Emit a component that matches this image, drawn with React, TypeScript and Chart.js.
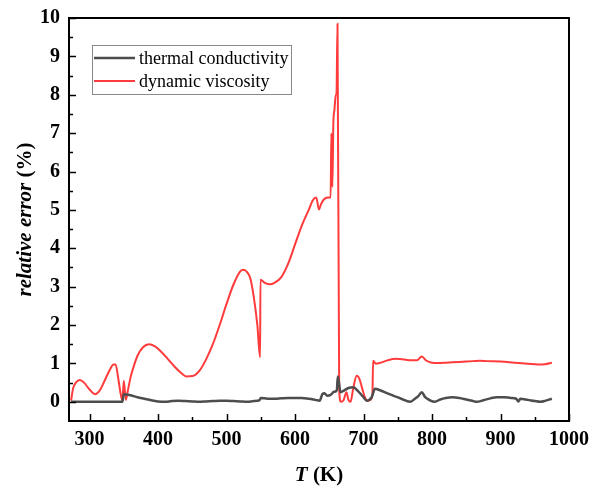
import { useEffect, useRef } from 'react';
import { Chart, registerables } from 'chart.js';

Chart.register(...registerables);

// thermal conductivity
const tempTC = [273, 300, 320, 340, 348, 350, 360, 370, 380, 390, 400, 410, 420, 430, 440, 450, 460, 470, 480, 490, 500, 510, 520, 530, 540, 548, 550, 560, 570, 580, 590, 600, 610, 620, 630, 636, 640, 643, 647, 652, 657, 661, 662.5, 666.5, 672, 678, 685, 692, 699, 704.6, 712, 716.7, 724, 735, 745, 755, 768, 775, 780, 785, 790, 797, 804, 812, 820, 830, 840, 850, 860, 865, 875, 885, 895, 905, 915, 923, 926, 929, 940, 950, 958, 966, 975];
const errTC = [0.0, 0.0, 0.0, 0.0, 0.0, 0.2, 0.17, 0.12, 0.08, 0.04, 0.01, 0.0, 0.02, 0.03, 0.02, 0.01, 0.0, 0.01, 0.02, 0.03, 0.03, 0.02, 0.01, 0.0, 0.02, 0.04, 0.1, 0.08, 0.08, 0.09, 0.1, 0.1, 0.1, 0.08, 0.05, 0.03, 0.2, 0.22, 0.16, 0.18, 0.26, 0.3, 0.66, 0.25, 0.3, 0.36, 0.38, 0.28, 0.14, 0.03, 0.12, 0.34, 0.3, 0.22, 0.15, 0.08, 0.0, 0.08, 0.15, 0.25, 0.12, 0.04, 0.0, 0.06, 0.1, 0.12, 0.1, 0.06, 0.02, 0.0, 0.04, 0.09, 0.12, 0.12, 0.1, 0.08, 0.01, 0.08, 0.05, 0.02, 0.0, 0.03, 0.08];

// dynamic viscosity
const tempDV = [273, 276, 280, 286, 292, 300, 308, 315, 322, 330, 335, 338, 342, 345, 348, 350, 353, 356, 360, 365, 370, 378, 387, 395, 405, 415, 425, 435, 441, 450, 460, 470, 480, 490, 500, 510, 520, 525, 530, 535, 540, 545, 549, 549.5, 556, 563, 570, 580, 590, 600, 610, 620, 626, 631, 635, 638, 642, 648, 652, 653, 654.5, 656, 657.5, 659.5, 660.5, 662, 664.5, 667, 671, 675, 678, 681, 685, 690, 694, 698, 702, 706, 710, 713, 714, 718, 725, 735, 748, 760, 770, 778, 785, 792, 800, 810, 820, 840, 860, 870, 880, 900, 920, 940, 955, 965, 975];
const errDV = [0.03, 0.35, 0.5, 0.57, 0.5, 0.32, 0.2, 0.3, 0.55, 0.85, 0.97, 0.97, 0.6, 0.25, 0.03, 0.55, 0.05, 0.3, 0.65, 0.95, 1.2, 1.42, 1.5, 1.45, 1.3, 1.1, 0.9, 0.73, 0.66, 0.67, 0.8, 1.1, 1.5, 2.0, 2.55, 3.05, 3.4, 3.44, 3.38, 3.2, 2.7, 2.0, 1.16, 3.18, 3.1, 3.06, 3.1, 3.25, 3.6, 4.1, 4.6, 5.0, 5.25, 5.32, 5.01, 5.15, 5.27, 5.32, 5.32, 7.0, 5.6, 7.3, 7.6, 8.0, 8.0, 9.85, 0.3, 0.0, 0.05, 0.25, 0.05, 0.0, 0.35, 0.68, 0.6, 0.35, 0.12, 0.02, 0.05, 0.2, 1.07, 0.99, 1.02, 1.08, 1.12, 1.1, 1.08, 1.08, 1.18, 1.07, 1.02, 1.01, 1.02, 1.04, 1.06, 1.07, 1.06, 1.05, 1.02, 0.99, 0.97, 0.98, 1.02];

const xTicks = [300, 400, 500, 600, 700, 800, 900, 1000];
const yTicks = [0, 1, 2, 3, 4, 5, 6, 7, 8, 9, 10];
const seriesLabels = ['thermal conductivity', 'dynamic viscosity'];

const SERIF = "'Liberation Serif', 'Times New Roman', serif";

const framePlugin = {
  id: 'frameAndTitles',
  afterDraw(chart: any) {
    const { ctx, chartArea: a, scales } = chart;
    const xs = scales.x;
    const ys = scales.y;
    ctx.save();
    ctx.strokeStyle = '#000';
    ctx.lineWidth = 2;
    ctx.strokeRect(a.left, a.top, a.right - a.left, a.bottom - a.top);
    ctx.lineWidth = 1.5;
    ctx.beginPath();
    for (let v = 300; v <= 1000; v += 50) {
      const px = Math.round(xs.getPixelForValue(v)) + 0.5;
      const len = v % 100 === 0 ? 7 : 4;
      ctx.moveTo(px, a.bottom);
      ctx.lineTo(px, a.bottom - len);
    }
    for (let v = 0; v <= 10; v += 0.5) {
      const py = Math.round(ys.getPixelForValue(v)) + 0.5;
      const len = Math.abs(v % 1) < 1e-9 ? 7 : 4;
      ctx.moveTo(a.left, py);
      ctx.lineTo(a.left + len, py);
    }
    ctx.stroke();

    // axis titles
    ctx.fillStyle = '#000';
    ctx.textBaseline = 'middle';
    const f1 = `italic bold 21px ${SERIF}`;
    const f2 = `bold 21px ${SERIF}`;
    ctx.font = f1;
    const tW = ctx.measureText('T').width;
    ctx.font = f2;
    const kW = ctx.measureText(' (K)').width;
    let sx = (a.left + a.right) / 2 - (tW + kW) / 2;
    ctx.font = f1;
    ctx.textAlign = 'left';
    ctx.fillText('T', sx, 476);
    ctx.font = f2;
    ctx.fillText(' (K)', sx + tW, 476);
    ctx.translate(26, (a.top + a.bottom) / 2);
    ctx.rotate(-Math.PI / 2);
    ctx.font = f1;
    const rW = ctx.measureText('relative error ').width;
    ctx.font = f2;
    const pW = ctx.measureText('(%)').width;
    sx = -(rW + pW) / 2;
    ctx.font = f1;
    ctx.fillText('relative error ', sx, 0);
    ctx.font = f2;
    ctx.fillText('(%)', sx + rW, 0);
    ctx.restore();

    // legend
    ctx.save();
    ctx.fillStyle = '#fff';
    ctx.fillRect(92, 45, 199, 49);
    ctx.strokeStyle = '#8a8a8a';
    ctx.lineWidth = 1;
    ctx.strokeRect(92.5, 45.5, 199, 49);
    chart.data.datasets.forEach((ds: any, i: number) => {
      const y = 58 + i * 23;
      ctx.strokeStyle = ds.borderColor;
      ctx.lineWidth = ds.borderWidth;
      ctx.beginPath();
      ctx.moveTo(94, y);
      ctx.lineTo(135, y);
      ctx.stroke();
      ctx.fillStyle = '#000';
      ctx.font = `18px ${SERIF}`;
      ctx.textAlign = 'left';
      ctx.textBaseline = 'middle';
      ctx.fillText(ds.label, 139, y + 1);
    });
    ctx.restore();
  },
};

export default function App() {
  const ref = useRef<HTMLCanvasElement>(null);
  useEffect(() => {
    if (!ref.current) return;
    const chart = new Chart(ref.current, {
      type: 'line',
      data: {
        datasets: [
          {
            label: seriesLabels[0],
            data: tempTC.map((t, i) => ({ x: t, y: errTC[i] })),
            borderColor: '#4d4d4d',
            borderWidth: 2.5,
            pointRadius: 0,
            cubicInterpolationMode: 'monotone',
          },
          {
            label: seriesLabels[1],
            data: tempDV.map((t, i) => ({ x: t, y: errDV[i] })),
            borderColor: '#ff3b3b',
            borderWidth: 2,
            pointRadius: 0,
            cubicInterpolationMode: 'monotone',
          },
        ],
      },
      options: {
        animation: false,
        responsive: true,
        maintainAspectRatio: false,
        layout: { padding: { left: 0, top: 18, right: 23, bottom: 0 } },
        plugins: { legend: { display: false }, tooltip: { enabled: false } },
        scales: {
          x: {
            type: 'linear',
            min: 270,
            max: 1000,
            afterBuildTicks: (s: any) => {
              s.ticks = xTicks.map((v) => ({ value: v }));
            },
            afterFit: (s: any) => {
              s.height = 66;
              s.paddingLeft = 0;
              s.paddingRight = 0;
            },
            grid: { display: false, drawTicks: false },
            border: { display: false },
            ticks: {
              padding: 7,
              color: '#000',
              font: { family: SERIF, weight: 'bold', size: 20 },
              maxRotation: 0,
              autoSkip: false,
              callback: (v: any) => String(v),
            },
          },
          y: {
            type: 'linear',
            min: -0.5,
            max: 10,
            afterBuildTicks: (s: any) => {
              s.ticks = yTicks.map((v) => ({ value: v }));
            },
            afterFit: (s: any) => {
              s.width = 69;
              s.paddingTop = 0;
              s.paddingBottom = 0;
            },
            grid: { display: false, drawTicks: false },
            border: { display: false },
            ticks: {
              padding: 9,
              color: '#000',
              font: { family: SERIF, weight: 'bold', size: 20 },
              autoSkip: false,
              callback: (v: any) => String(v),
            },
          },
        },
      },
      plugins: [framePlugin],
    } as any);
    return () => chart.destroy();
  }, []);
  return (
    <div style={{ position: 'absolute', left: 0, top: 0, width: 592, height: 487 }}>
      <canvas ref={ref} />
    </div>
  );
}
